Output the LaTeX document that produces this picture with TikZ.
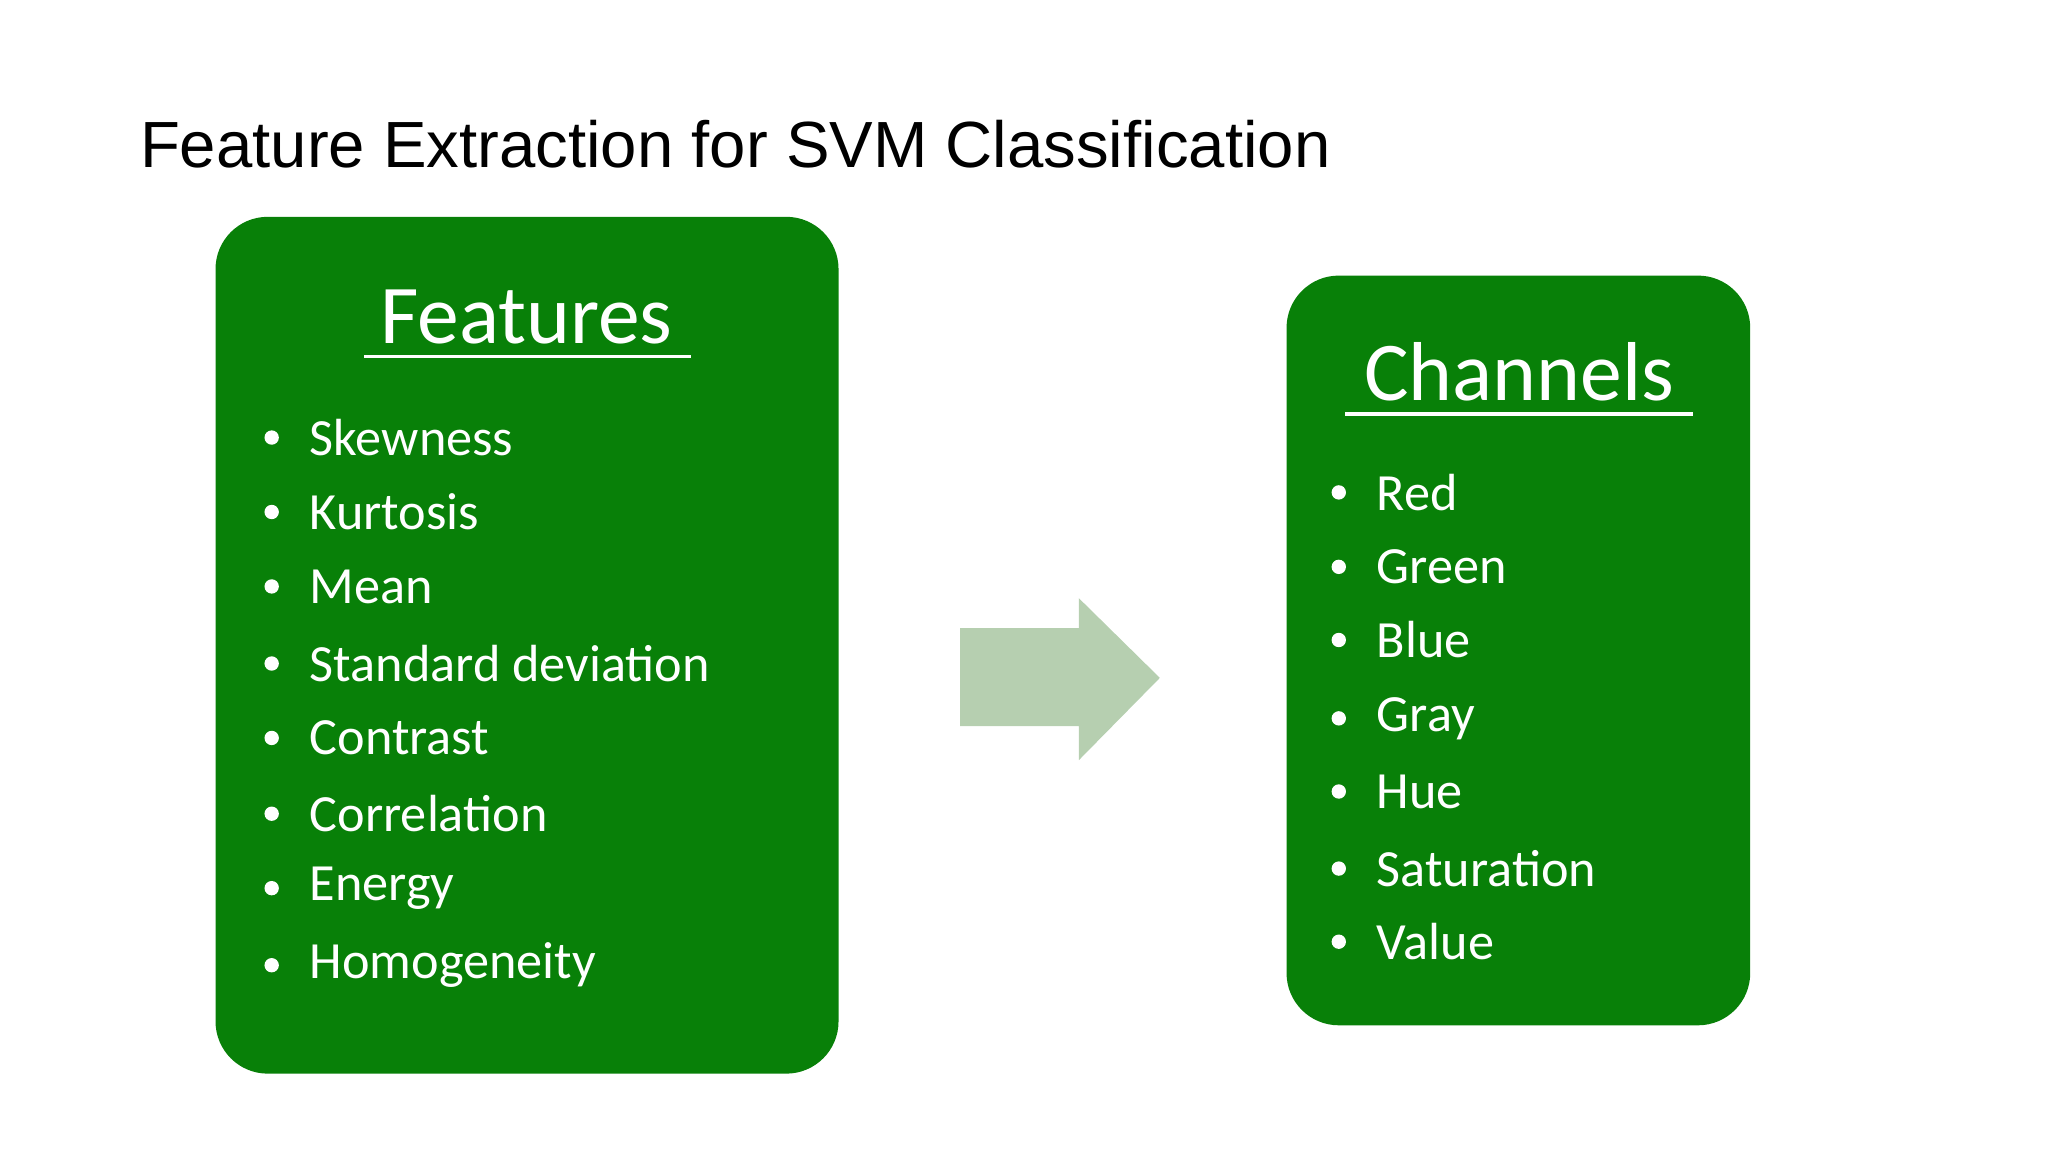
\documentclass[tikz,border=0pt]{standalone}
\usepackage{fontspec}
\setmainfont{Carlito}
\newfontfamily\titlefont{Liberation Sans}
\definecolor{boxgreen}{RGB}{8,128,8}
\definecolor{arrowgreen}{RGB}{182,207,176}
\begin{document}
\begin{tikzpicture}[x=1pt,y=-1pt,
  gbox/.style={fill=boxgreen,draw=none,rounded corners=40pt},
  head/.style={text=white,font=\fontsize{64}{70}\selectfont,inner sep=0},
  item/.style={text=white,font=\fontsize{40}{44}\selectfont,anchor=west,inner sep=0},
  bul/.style={circle,fill=white,minimum size=11pt,inner sep=0}]
\useasboundingbox (0,0) rectangle (1568,882);
\node[anchor=base west,inner sep=0,font=\titlefont\fontsize{50}{56}\selectfont] (title) at (107,128) {Feature Extraction for SVM Classification};
\path[gbox] (165,166) rectangle (642,822);
\path[gbox] (985,211) rectangle (1340,785);
\fill[arrowgreen] (735,481) -- (826,481) -- (826,458) -- (888,519) -- (826,582) -- (826,556) -- (735,556) -- cycle;
\node[head] (fh) at (403,243) {Features};
\draw[white,line width=2.5pt] (279,273) -- (529,273);
\node[head] (ch) at (1163,285) {Channels};
\draw[white,line width=2.5pt] (1030,317) -- (1296,317);
\foreach \t/\y [count=\i] in {Skewness/335,Kurtosis/392,Mean/449,Standard deviation/508,Contrast/565,Correlation/623,Energy/680,Homogeneity/739}{
  \node[bul] (fb\i) at (208,\y) {};
  \node[item] (fi\i) at (237,\y) {\t};
}
\foreach \t/\y [count=\i] in {Red/377,Green/434,Blue/490,Gray/550,Hue/606,Saturation/665,Value/721}{
  \node[bul] (cb\i) at (1025,\y) {};
  \node[item] (ci\i) at (1054,\y) {\t};
}
\end{tikzpicture}
\end{document}
